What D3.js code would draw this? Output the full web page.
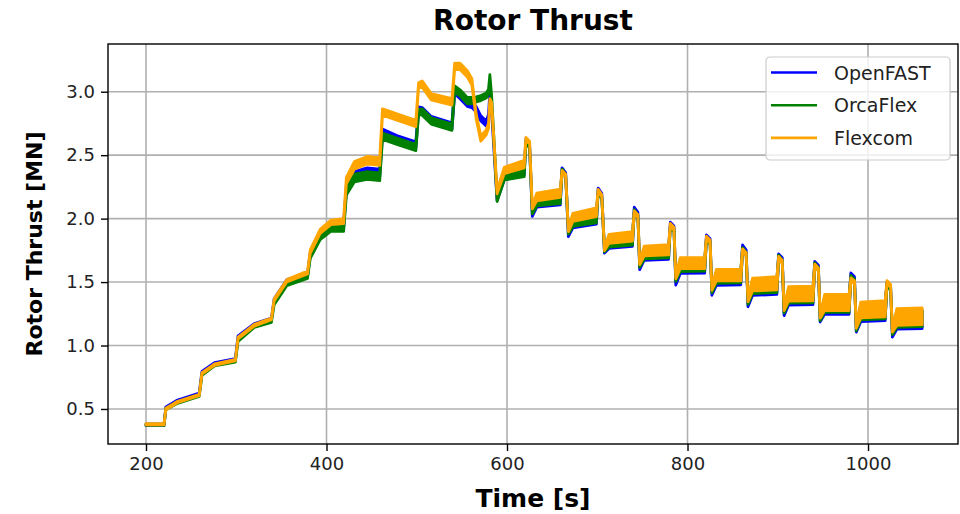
<!DOCTYPE html>
<html>
<head>
<meta charset="utf-8">
<script src="https://cdn.jsdelivr.net/npm/d3@7"></script>
<style>
  body { margin: 0; background: #fff; }
  text { font-family: "DejaVu Sans", sans-serif; }
</style>
</head>
<body>
<svg width="960" height="514"></svg>
<script>
// time [s] shared by all three runs
const time = [
  200, 220,
  222, 235, 259,
  262, 276, 299,
  302, 320, 339,
  342, 356, 379,
  382, 393, 405, 419,
  422, 431, 445, 459,
  462, 478, 499,
  502, 506, 516, 539,
  542, 548, 556, 561, 566, 571, 577, 579.5, 581, 583, 589,
  597, 619,
  621, 625, 628, 633, 659,
  661, 665, 668, 673, 699,
  701, 705, 708, 713, 739,
  741, 745, 747, 752, 779,
  781, 785, 787, 792, 819,
  821, 825, 827, 832, 859,
  861, 865, 867, 872, 899,
  901, 905, 907, 912, 939,
  941, 945, 947, 952, 979,
  981, 985, 987, 992, 1019,
  1021, 1025, 1027, 1032, 1060
];

// rotor thrust [MN], middle of the noisy band
const openFAST = [
  .375, .375,
  .51, .565, .62,
  .79, .86, .89,
  1.07, 1.165, 1.21,
  1.36, 1.51, 1.56,
  1.72, 1.87, 1.94, 1.95,
  2.24, 2.34, 2.37, 2.36,
  2.68, 2.63, 2.58,
  2.86, 2.85, 2.78, 2.73,
  3.01, 2.97, 2.91, 2.90, 2.86, 2.79, 2.75, 2.80, 2.98, 2.85, 2.16,
  2.33, 2.37,
  2.62, 2.58, 2.03, 2.12, 2.14,
  2.39, 2.35, 1.87, 1.96, 1.99,
  2.23, 2.19, 1.74, 1.80, 1.82,
  2.08, 2.04, 1.61, 1.71, 1.72,
  1.96, 1.93, 1.49, 1.61, 1.615,
  1.86, 1.83, 1.41, 1.52, 1.525,
  1.78, 1.74, 1.32, 1.445, 1.455,
  1.71, 1.68, 1.25, 1.375, 1.38,
  1.65, 1.62, 1.20, 1.31, 1.31,
  1.56, 1.53, 1.12, 1.25, 1.26,
  1.49, 1.46, 1.08, 1.195, 1.20
];
const orcaFlex = [
  .375, .375,
  .50, .55, .605,
  .77, .845, .875,
  1.04, 1.15, 1.19,
  1.33, 1.48, 1.54,
  1.70, 1.85, 1.92, 1.92,
  2.21, 2.32, 2.34, 2.33,
  2.65, 2.61, 2.56,
  2.84, 2.84, 2.77, 2.72,
  3.02, 2.99, 2.93, 2.93, 2.94, 2.95, 2.97, 3.00, 3.12, 2.95, 2.15,
  2.33, 2.36,
  2.60, 2.57, 2.05, 2.13, 2.15,
  2.38, 2.34, 1.89, 1.97, 2.00,
  2.21, 2.17, 1.75, 1.81, 1.83,
  2.06, 2.02, 1.63, 1.72, 1.73,
  1.94, 1.91, 1.52, 1.625, 1.63,
  1.84, 1.81, 1.43, 1.535, 1.54,
  1.76, 1.72, 1.34, 1.46, 1.47,
  1.70, 1.66, 1.27, 1.39, 1.395,
  1.64, 1.60, 1.21, 1.325, 1.325,
  1.54, 1.51, 1.13, 1.265, 1.275,
  1.48, 1.45, 1.10, 1.21, 1.215
];
const flexcom = [
  .38, .38,
  .50, .555, .61,
  .78, .85, .885,
  1.06, 1.16, 1.21,
  1.36, 1.51, 1.575,
  1.74, 1.90, 1.97, 1.98,
  2.30, 2.42, 2.46, 2.45,
  2.84, 2.80, 2.75,
  3.05, 3.06, 2.96, 2.92,
  3.20, 3.20, 3.14, 3.08, 2.80, 2.63, 2.68, 2.73, 2.93, 2.90, 2.21,
  2.38, 2.43,
  2.63, 2.60, 2.09, 2.17, 2.20,
  2.37, 2.34, 1.91, 2.01, 2.05,
  2.22, 2.18, 1.76, 1.84, 1.86,
  2.05, 2.02, 1.65, 1.745, 1.755,
  1.95, 1.92, 1.54, 1.65, 1.65,
  1.85, 1.82, 1.45, 1.555, 1.555,
  1.75, 1.72, 1.36, 1.48, 1.49,
  1.69, 1.66, 1.29, 1.407, 1.41,
  1.63, 1.60, 1.23, 1.34, 1.34,
  1.52, 1.50, 1.15, 1.28, 1.29,
  1.50, 1.47, 1.12, 1.225, 1.23
];
// half height of the oscillation band [MN]
const spread = [
  .005, .005,
  .006, .006, .006,
  .006, .006, .006,
  .007, .007, .007,
  .008, .009, .011,
  .013, .016, .018, .02,
  .025, .03, .03, .03,
  .025, .025, .025,
  .02, .025, .025, .025,
  .025, .025, .025, .025, .02, .02, .02, .02, .015, .015, .015,
  .025, .03,
  .01, .01, .012, .03, .032,
  .01, .01, .012, .032, .034,
  .01, .01, .012, .035, .038,
  .01, .01, .012, .038, .04,
  .012, .012, .014, .042, .044,
  .012, .012, .014, .045, .046,
  .012, .012, .014, .05, .052,
  .012, .012, .014, .056, .058,
  .012, .012, .014, .062, .064,
  .012, .012, .014, .062, .064,
  .012, .012, .014, .066, .066
];

const seriesNames = ['OpenFAST', 'OrcaFlex', 'Flexcom'];
const seriesValues = [openFAST, orcaFlex, flexcom];
const seriesColors = ['#0000ff', '#008000', '#ffa500'];
const xTicks = [200, 400, 600, 800, 1000];
const yTicks = [0.5, 1.0, 1.5, 2.0, 2.5, 3.0];

const margin = {top: 44, right: 2, bottom: 70, left: 108};
const width = 960 - margin.left - margin.right;
const height = 514 - margin.top - margin.bottom;

const x = d3.scaleLinear().domain([157.9, 1099.7]).range([0, width]);
const y = d3.scaleLinear().domain([0.224, 3.376]).range([height, 0]);

const svg = d3.select('svg');
const chart = svg.append('g').attr('transform', 'translate(' + margin.left + ',' + margin.top + ')');

// grid
chart.append('g').selectAll('line').data(xTicks).enter().append('line')
  .attr('x1', d => x(d)).attr('x2', d => x(d)).attr('y1', 0).attr('y2', height)
  .attr('stroke', '#b0b0b0').attr('stroke-width', 1.6);
chart.append('g').selectAll('line').data(yTicks).enter().append('line')
  .attr('y1', d => y(d)).attr('y2', d => y(d)).attr('x1', 0).attr('x2', width)
  .attr('stroke', '#b0b0b0').attr('stroke-width', 1.6);

chart.append('clipPath').attr('id', 'clip').append('rect').attr('width', width).attr('height', height);

const band = d3.area()
  .x(d => x(d.t))
  .y0(d => y(d.v - d.n))
  .y1(d => y(d.v + d.n));

const plot = chart.append('g').attr('clip-path', 'url(#clip)');
seriesValues.forEach((vals, i) => {
  const pts = time.map((t, k) => ({t: t, v: vals[k], n: spread[k]}));
  plot.append('path')
    .datum(pts)
    .attr('d', band)
    .attr('fill', seriesColors[i])
    .attr('stroke', seriesColors[i])
    .attr('stroke-width', 2.8)
    .attr('stroke-linejoin', 'round');
});

// axes
const xAxis = d3.axisBottom(x).tickValues(xTicks).tickSize(7).tickPadding(6).tickFormat(d3.format('d'));
const yAxis = d3.axisLeft(y).tickValues(yTicks).tickSize(7).tickPadding(6).tickFormat(d3.format('.1f'));
const gx = chart.append('g').attr('transform', 'translate(0,' + height + ')').call(xAxis);
const gy = chart.append('g').call(yAxis);
[gx, gy].forEach(g => {
  g.select('.domain').remove();
  g.selectAll('.tick line').attr('stroke', '#000').attr('stroke-width', 1.4);
  g.selectAll('.tick text').attr('font-size', 18).attr('fill', '#222');
});

chart.append('rect').attr('width', width).attr('height', height)
  .attr('fill', 'none').attr('stroke', '#000').attr('stroke-width', 1.4);

// titles
svg.append('text').text('Rotor Thrust')
  .attr('x', margin.left + width / 2).attr('y', 30)
  .attr('text-anchor', 'middle').attr('font-size', 28).attr('font-weight', 'bold');
svg.append('text').text('Time [s]')
  .attr('x', margin.left + width / 2).attr('y', 507)
  .attr('text-anchor', 'middle').attr('font-size', 25).attr('font-weight', 'bold');
svg.append('text').text('Rotor Thrust [MN]')
  .attr('transform', 'translate(42,' + (margin.top + height / 2) + ') rotate(-90)')
  .attr('text-anchor', 'middle').attr('font-size', 22).attr('font-weight', 'bold');

// legend
const legend = chart.append('g').attr('transform', 'translate(' + (width - 192) + ',13)');
legend.append('rect').attr('width', 184).attr('height', 103).attr('rx', 4)
  .attr('fill', '#fff').attr('fill-opacity', 0.8).attr('stroke', '#cccccc').attr('stroke-width', 1.2);
seriesNames.forEach((name, i) => {
  const row = legend.append('g').attr('transform', 'translate(0,' + (15.5 + i * 32.7) + ')');
  row.append('line').attr('x1', 5).attr('x2', 51).attr('stroke', seriesColors[i]).attr('stroke-width', 2.6);
  row.append('text').text(name).attr('x', 68).attr('y', 7).attr('font-size', 19).attr('fill', '#222');
});
</script>
</body>
</html>
